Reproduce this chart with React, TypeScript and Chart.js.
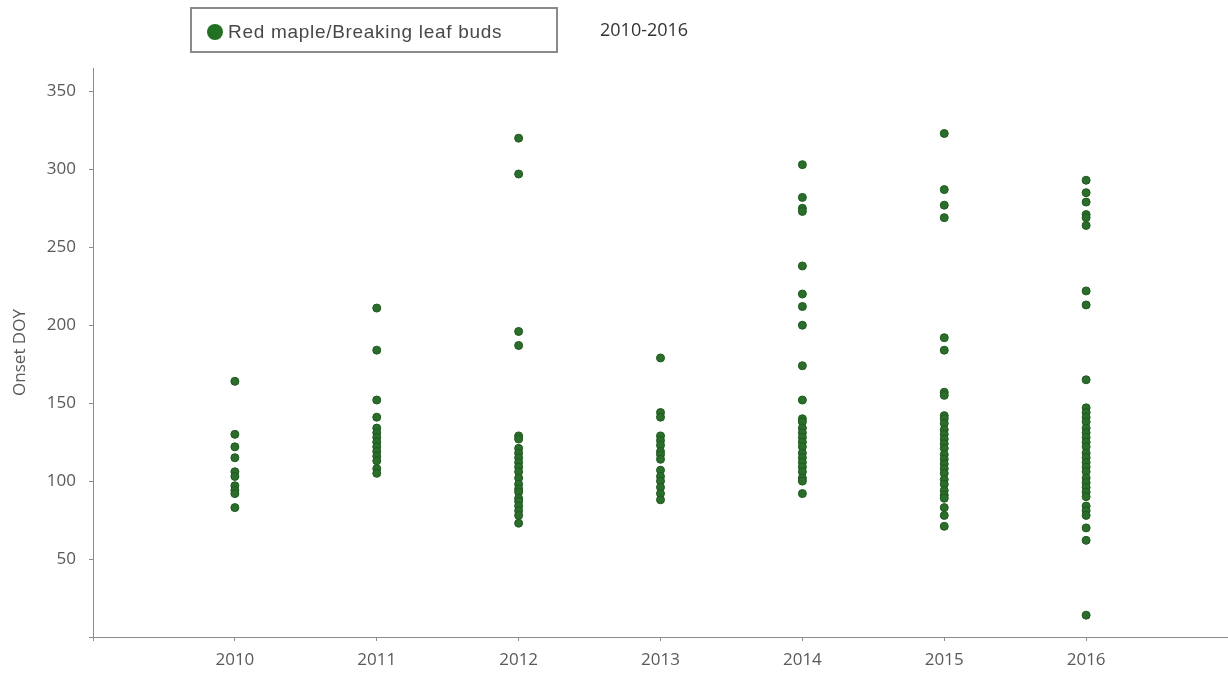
import React, { useEffect, useRef } from "react";
import { Chart, registerables } from "chart.js";

Chart.register(...registerables);

const years = [2010, 2011, 2012, 2013, 2014, 2015, 2016];

const onset2010 = [164, 130, 122, 115, 106, 103, 97, 94, 92, 83];
const onset2011 = [211, 184, 152, 141, 134, 131, 128, 125, 122, 119, 116, 113, 108, 105];
const onset2012 = [320, 297, 196, 187, 129, 127, 121, 118, 115, 112, 109, 106, 102, 98, 95, 93, 89, 87, 84, 81, 78, 73];
const onset2013 = [179, 144, 141, 129, 126, 123, 119, 117, 114, 107, 103, 100, 96, 92, 88];
const onset2014 = [303, 282, 275, 273, 238, 220, 212, 200, 174, 152, 140, 138, 134, 131, 128, 125, 122, 118, 115, 112, 109, 106, 102, 100, 92];
const onset2015 = [323, 287, 277, 269, 192, 184, 157, 155, 142, 140, 137, 133, 130, 127, 124, 121, 117, 114, 111, 108, 105, 101, 98, 94, 91, 89, 83, 78, 71];
const onset2016 = [293, 285, 279, 271, 269, 264, 222, 213, 165, 147, 144, 141, 138, 134, 131, 128, 125, 122, 118, 115, 112, 109, 106, 102, 99, 96, 93, 90, 84, 81, 78, 70, 62, 14];

const onsetByYear = [onset2010, onset2011, onset2012, onset2013, onset2014, onset2015, onset2016];

const seriesLabel = "Red maple/Breaking leaf buds";
const rangeLabel = "2010-2016";
const yTitle = "Onset DOY";

const axisColor = "#8c8c8c";
const tickTextColor = "#595959";

export default function App() {
  const canvasRef = useRef<HTMLCanvasElement | null>(null);

  useEffect(() => {
    if (!canvasRef.current) return;
    const points: { x: number; y: number }[] = [];
    years.forEach((yr, i) => {
      onsetByYear[i].forEach((v) => points.push({ x: yr, y: v }));
    });

    const chart = new Chart(canvasRef.current, {
      type: "scatter",
      data: {
        datasets: [
          {
            label: seriesLabel,
            data: points,
            pointRadius: 4,
            pointHoverRadius: 4,
            backgroundColor: "#2b6e2b",
            borderColor: "#1f581f",
            borderWidth: 1,
          },
        ],
      },
      options: {
        responsive: false,
        animation: false,
        layout: { autoPadding: false, padding: { top: 68, left: 0, right: 0, bottom: 0 } },
        plugins: {
          legend: { display: false },
          tooltip: { enabled: false },
          title: { display: false },
        },
        scales: {
          x: {
            type: "linear",
            min: 2009,
            max: 2017,
            afterFit: (scale: any) => {
              scale.height = 36;
              scale.paddingRight = 0;
              scale.paddingLeft = 0;
            },
            grid: { drawOnChartArea: false, tickLength: 4, color: axisColor },
            border: { color: axisColor, width: 1 },
            ticks: {
              stepSize: 1,
              autoSkip: false,
              maxRotation: 0,
              padding: 9,
              color: tickTextColor,
              font: { family: "'Open Sans'", size: 17 },
              callback: (v: any) => (v >= 2010 && v <= 2016 ? String(v) : ""),
            },
          },
          y: {
            min: 0,
            max: 365,
            afterFit: (scale: any) => {
              scale.width = 93;
              scale.paddingTop = 0;
              scale.paddingBottom = 0;
            },
            grid: { drawOnChartArea: false, tickLength: 4, color: axisColor },
            border: { color: axisColor, width: 1 },
            title: {
              display: true,
              text: yTitle,
              color: tickTextColor,
              font: { family: "'Open Sans'", size: 17 },
              padding: { top: 10, bottom: 0 },
            },
            ticks: {
              stepSize: 50,
              includeBounds: false,
              autoSkip: false,
              padding: 13,
              color: tickTextColor,
              font: { family: "'Open Sans'", size: 17 },
              callback: (v: any) => (v === 0 ? "" : String(v)),
            },
          },
        },
      },
    } as any);
    return () => chart.destroy();
  }, []);

  return (
    <div
      style={{
        position: "absolute",
        left: 0,
        top: 0,
        width: 1228,
        height: 673,
        background: "#fff",
        overflow: "hidden",
      }}
    >
      <canvas ref={canvasRef} width={1228} height={673} style={{ position: "absolute", left: 0, top: 0 }} />
      <div
        style={{
          position: "absolute",
          left: 190,
          top: 7,
          width: 364,
          height: 42,
          border: "2px solid #8a8a8a",
          background: "#fff",
          boxSizing: "content-box",
        }}
      >
        <div
          style={{
            position: "absolute",
            left: 15,
            top: 15,
            width: 16,
            height: 16,
            borderRadius: "50%",
            background: "#227022",
          }}
        />
        <div
          style={{
            position: "absolute",
            left: 36,
            top: 11,
            fontFamily: "'Liberation Sans', Arial, sans-serif",
            fontSize: 19,
            letterSpacing: "0.7px",
            color: "#484848",
            whiteSpace: "nowrap",
            lineHeight: "24px",
          }}
        >
          {seriesLabel}
        </div>
      </div>
      <div
        style={{
          position: "absolute",
          left: 600,
          top: 17,
          fontFamily: "'Open Sans', sans-serif",
          fontSize: 18,
          color: "#333",
          whiteSpace: "nowrap",
          lineHeight: "24px",
        }}
      >
        {rangeLabel}
      </div>
    </div>
  );
}
